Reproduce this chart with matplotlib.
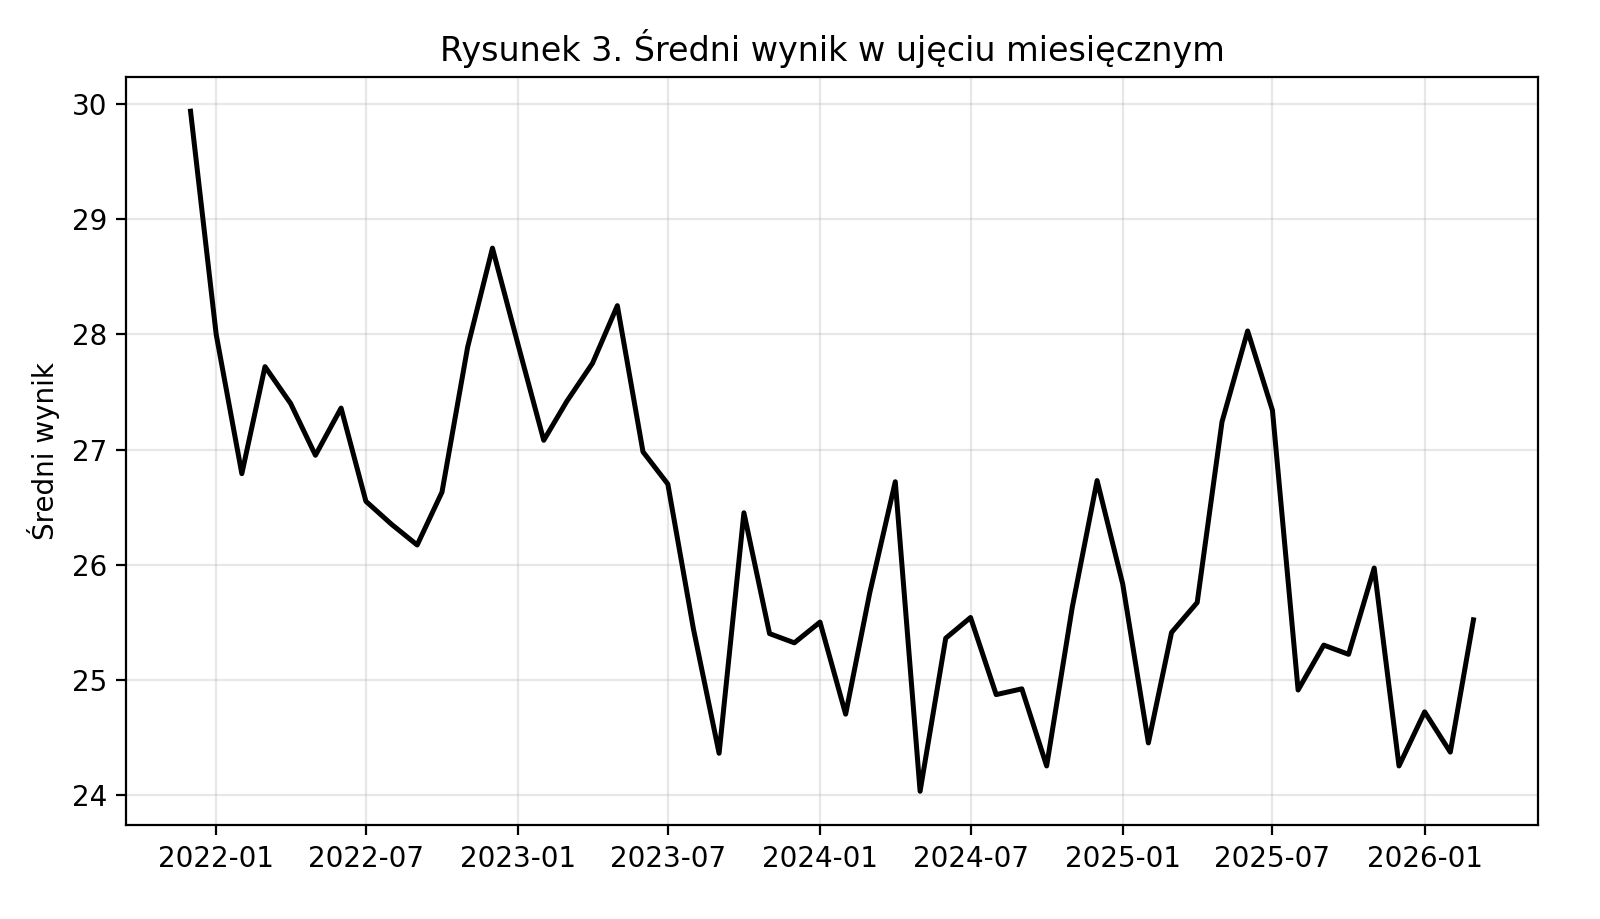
import numpy as np
import pandas as pd
import matplotlib
matplotlib.use('Agg')
import matplotlib.pyplot as plt
import matplotlib.dates as mdates

# Dane miesięczne: 2021-12 .. 2026-03
miesiace = pd.date_range("2021-12-01", "2026-03-01", freq="MS")
wyniki = [
    29.94,
    28.00, 26.79, 27.72, 27.40, 26.95, 27.36, 26.55, 26.35, 26.17, 26.63, 27.89, 28.75,
    27.91, 27.08, 27.42, 27.75, 28.25, 26.98, 26.70, 25.44, 24.36, 26.45, 25.40, 25.32,
    25.50, 24.70, 25.75, 26.72, 24.03, 25.36, 25.54, 24.87, 24.92, 24.25, 25.63, 26.73,
    25.83, 24.45, 25.41, 25.67, 27.24, 28.03, 27.34, 24.91, 25.30, 25.22, 25.97, 24.25,
    24.72, 24.37, 25.52,
]

fig, ax = plt.subplots(figsize=(8, 4.595), dpi=200)
fig.subplots_adjust(left=0.079, right=0.961, top=0.916, bottom=0.102)

ax.plot(miesiace, wyniki, color='black', linewidth=1.8)
ax.set_title("Rysunek 3. Średni wynik w ujęciu miesięcznym")
ax.set_ylabel("Średni wynik")
ax.grid(True, alpha=0.3)
ax.xaxis.set_major_locator(mdates.MonthLocator(bymonth=[1, 7]))
ax.xaxis.set_major_formatter(mdates.DateFormatter("%Y-%m"))

plt.savefig("out.png", dpi=200)
plt.close()
